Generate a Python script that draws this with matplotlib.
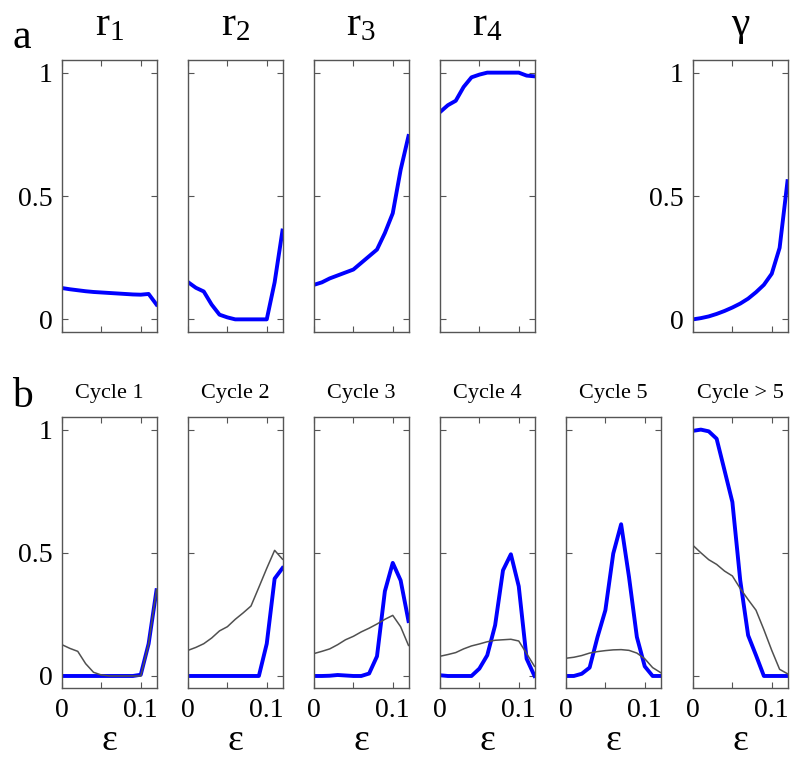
import matplotlib
matplotlib.use("Agg")
import matplotlib.pyplot as plt
import numpy as np

plt.rcParams['font.family'] = ['Liberation Serif', 'DejaVu Serif']
plt.rcParams['mathtext.fontset'] = 'custom'
plt.rcParams['mathtext.rm'] = 'Liberation Serif'
plt.rcParams['mathtext.it'] = 'Liberation Serif:italic'

eps = [0.0, 0.01, 0.02, 0.03, 0.04, 0.05, 0.06, 0.07, 0.08, 0.09, 0.10, 0.11, 0.12]

# Panel a
r1 = [0.127, 0.122, 0.118, 0.114, 0.111, 0.109, 0.107, 0.105, 0.103, 0.101, 0.100, 0.103, 0.060]
r2 = [0.151, 0.128, 0.113, 0.060, 0.019, 0.008, 0.0, 0.0, 0.0, 0.0, 0.0, 0.15, 0.36]
r3 = [0.140, 0.150, 0.166, 0.178, 0.190, 0.202, 0.229, 0.256, 0.283, 0.350, 0.430, 0.606, 0.743]
r4 = [0.840, 0.868, 0.886, 0.942, 0.981, 0.992, 1.0, 1.0, 1.0, 1.0, 1.0, 0.988, 0.985]
gamma = [0.0, 0.005, 0.012, 0.022, 0.034, 0.048, 0.064, 0.084, 0.110, 0.140, 0.185, 0.290, 0.560]

top_titles = [r'$\mathrm{r}_1$', r'$\mathrm{r}_2$', r'$\mathrm{r}_3$', r'$\mathrm{r}_4$', 'γ']
top_series = [r1, r2, r3, r4, gamma]

# Panel b
cycle_titles = ['Cycle 1', 'Cycle 2', 'Cycle 3', 'Cycle 4', 'Cycle 5', 'Cycle > 5']
cyc_blue = [
    [0, 0, 0, 0, 0, 0, 0, 0, 0, 0, 0.005, 0.131, 0.348],
    [0, 0, 0, 0, 0, 0, 0, 0, 0, 0, 0.131, 0.395, 0.438],
    [0, 0, 0.001, 0.004, 0.002, 0, 0, 0.01, 0.08, 0.344, 0.459, 0.388, 0.223],
    [0.003, 0, 0, 0, 0, 0.03, 0.084, 0.206, 0.429, 0.494, 0.364, 0.07, 0.0],
    [0, 0, 0.009, 0.034, 0.158, 0.267, 0.497, 0.616, 0.402, 0.158, 0.039, 0, 0],
    [0.995, 1.0, 0.993, 0.963, 0.835, 0.706, 0.388, 0.165, 0.084, 0, 0, 0, 0],
]
cyc_gray = [
    [0.127, 0.112, 0.100, 0.050, 0.015, 0.004, 0, 0, 0, 0, 0, 0.13, 0.35],
    [0.104, 0.116, 0.131, 0.154, 0.183, 0.200, 0.230, 0.256, 0.284, 0.360, 0.437, 0.510, 0.474],
    [0.091, 0.100, 0.110, 0.127, 0.147, 0.161, 0.179, 0.194, 0.211, 0.230, 0.246, 0.200, 0.124],
    [0.080, 0.087, 0.095, 0.110, 0.122, 0.130, 0.139, 0.145, 0.147, 0.149, 0.142, 0.091, 0.039],
    [0.072, 0.076, 0.083, 0.093, 0.099, 0.103, 0.106, 0.107, 0.104, 0.093, 0.070, 0.034, 0.014],
    [0.530, 0.500, 0.472, 0.453, 0.426, 0.406, 0.355, 0.310, 0.267, 0.188, 0.104, 0.027, 0.009],
]

W, H = 800, 761
fig = plt.figure(figsize=(W / 100, H / 100), dpi=100)

lefts = [62, 188, 314, 440, 566, 693]
aw = 94.5
top_idx = [0, 1, 2, 3, 5]
spine_col = '#555555'


def style(ax, ylabels, xlabels):
    ax.set_xlim(0, 0.12)
    ax.set_ylim(-0.05, 1.05)
    ax.set_xticks([0, 0.05, 0.1])
    ax.set_yticks([0, 0.5, 1])
    for s in ax.spines.values():
        s.set_color(spine_col)
        s.set_linewidth(1.0)
    ax.tick_params(direction='in', length=4, width=0.8, color=spine_col,
                   top=True, right=True, labelsize=20, pad=7)
    if ylabels:
        ax.set_yticklabels(['0', '0.5', '1'])
    else:
        ax.set_yticklabels([])
    if xlabels:
        ax.set_xticklabels(['0', '', '0.1'])
    else:
        ax.set_xticklabels([])


# top row
for k, (i, t, s) in enumerate(zip(top_idx, top_titles, top_series)):
    ax = fig.add_axes([lefts[i] / W, (H - 331.7) / H, aw / W, 271.4 / H])
    ax.plot(eps, s, color='#0000ff', lw=2.8)
    style(ax, ylabels=(i in (0, 5)), xlabels=False)
    ax.set_title(t, fontsize=30, pad=18)

# bottom row
for i in range(6):
    ax = fig.add_axes([lefts[i] / W, (H - 688.3) / H, aw / W, 271 / H])
    ax.plot(eps, cyc_blue[i], color='#0000ff', lw=2.8)
    ax.plot(eps, cyc_gray[i], color='#505050', lw=1.1)
    style(ax, ylabels=(i == 0), xlabels=True)
    ax.set_title(cycle_titles[i], fontsize=16, pad=14)
    ax.set_xlabel('ε', fontsize=27, labelpad=0)

fig.text(12 / W, 1 - 48 / H, 'a', fontsize=30, va='baseline', ha='left')
fig.text(12 / W, 1 - 407 / H, 'b', fontsize=30, va='baseline', ha='left')

fig.savefig('out.png', dpi=100)
